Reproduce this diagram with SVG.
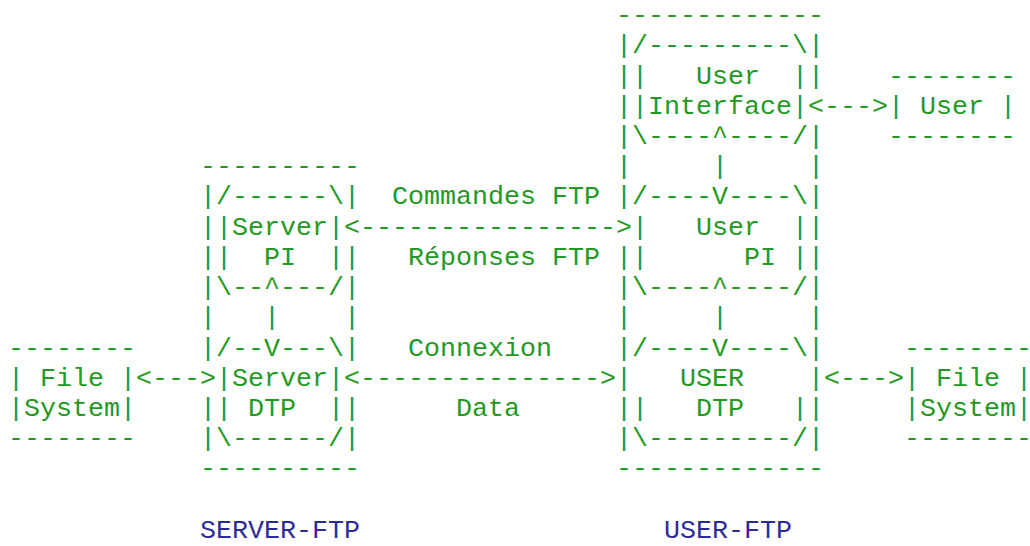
<svg xmlns="http://www.w3.org/2000/svg" width="1030" height="546" viewBox="0 0 1030 546">
<style>
text{font-family:"Liberation Mono","Courier New",monospace;font-size:26.667px;fill:#229922;white-space:pre}
.t{fill:#2a2a9c}
</style>
<rect width="1030" height="546" fill="#fff"/>
<g id="server-ftp" xml:space="preserve">
<text x="200" y="174.2">----------</text>
<text x="200" y="204.4">|/------\|</text>
<text x="200" y="234.6">||Server|</text>
<text x="200" y="264.9">||  PI  ||</text>
<text x="200" y="295.1">|\--^---/|</text>
<text x="200" y="325.3">|   |    |</text>
<text x="200" y="355.5">|/--V---\|</text>
<text x="216" y="385.7">|Server|</text>
<text x="200" y="416.0">|| DTP  ||</text>
<text x="200" y="446.2">|\------/|</text>
<text x="200" y="476.4">----------</text>
</g>
<g id="user-ftp" xml:space="preserve">
<text x="616" y="23.1">-------------</text>
<text x="616" y="53.3">|/---------\|</text>
<text x="616" y="83.5">||   User  ||</text>
<text x="616" y="113.8">||Interface|</text>
<text x="616" y="144.0">|\----^----/|</text>
<text x="616" y="174.2">|     |     |</text>
<text x="616" y="204.4">|/----V----\|</text>
<text x="632" y="234.6">|   User  ||</text>
<text x="616" y="264.9">||      PI ||</text>
<text x="616" y="295.1">|\----^----/|</text>
<text x="616" y="325.3">|     |     |</text>
<text x="616" y="355.5">|/----V----\|</text>
<text x="616" y="385.7">|   USER    |</text>
<text x="616" y="416.0">||   DTP   ||</text>
<text x="616" y="446.2">|\---------/|</text>
<text x="616" y="476.4">-------------</text>
</g>
<g id="user" xml:space="preserve">
<text x="888" y="83.5">--------</text>
<text x="888" y="113.8">| User |</text>
<text x="888" y="144.0">--------</text>
</g>
<g id="file-system-server" xml:space="preserve">
<text x="8" y="355.5">--------</text>
<text x="8" y="385.7">| File |</text>
<text x="8" y="416.0">|System|</text>
<text x="8" y="446.2">--------</text>
</g>
<g id="file-system-user" xml:space="preserve">
<text x="904" y="355.5">--------</text>
<text x="904" y="385.7">| File |</text>
<text x="904" y="416.0">|System|</text>
<text x="904" y="446.2">--------</text>
</g>
<g id="connectors" xml:space="preserve">
<text x="808" y="113.8">&lt;---&gt;</text>
<text x="344" y="234.6">&lt;----------------&gt;</text>
<text x="136" y="385.7">&lt;---&gt;</text>
<text x="344" y="385.7">&lt;---------------&gt;</text>
<text x="824" y="385.7">&lt;---&gt;</text>
</g>
<g id="labels" xml:space="preserve">
<text x="392" y="204.4">Commandes FTP</text>
<text x="408" y="264.9">Réponses FTP</text>
<text x="408" y="355.5">Connexion</text>
<text x="456" y="416.0">Data</text>
<text class="t" x="200" y="538">SERVER-FTP</text>
<text class="t" x="664" y="538">USER-FTP</text>
</g>
</svg>
